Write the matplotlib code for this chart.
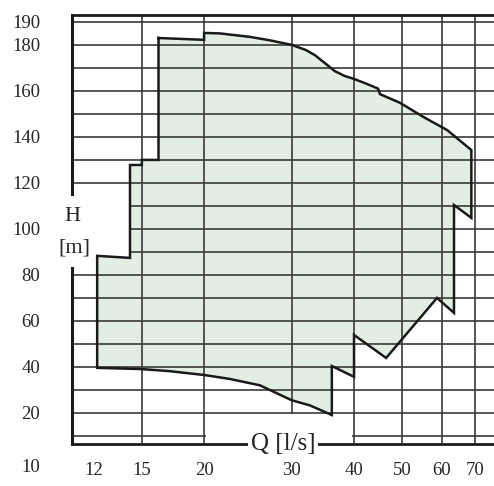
import matplotlib
matplotlib.use("Agg")
import matplotlib.pyplot as plt
from matplotlib.ticker import NullFormatter

plt.rcParams['font.family'] = ['Liberation Serif', 'DejaVu Serif']

# pump envelope, Q [l/s] and H [m], traced clockwise from the top-left
env_q = [16.2, 20, 20, 21.5, 24.7, 27.1, 30, 32, 33.4, 35, 36.6, 38.3, 40, 42.5, 44.7, 45.1,
         49.5, 55.1, 61.5, 68.8,
         68.8, 63.5, 63.5, 58.7, 46.4, 40, 40, 36.1, 36.1,
         32.6, 30, 25.9, 22.5, 20, 17, 14.9, 12.2,
         12.2, 14.2, 14.2, 15.0, 15.0, 16.2]
env_h = [183, 182.2, 185.2, 185.0, 183.5, 182, 180, 177.8, 175.5, 172, 168.6, 166.5, 165.2, 163, 161, 158.6,
         154.8, 148.7, 143, 134.3,
         104.8, 110.4, 63.5, 70, 43.9, 53.9, 35.7, 40.4, 19.1,
         23.3, 25.5, 32, 34.8, 36.5, 38.2, 39.1, 39.6,
         88.3, 87.4, 127.8, 127.8, 130, 130]

q_ticks = [12, 15, 20, 30, 40, 50, 60, 70]
q_grid = [15, 20, 30, 40, 50, 60, 70]
h_ticks = [20, 40, 60, 80, 100, 120, 140, 160, 180, 190]
h_grid = list(range(10, 200, 10))

q_min, q_max = 10.86, 76.4
h_min, h_max = 6.5, 193

txt = '#262626'
grid_col = '#3a3a3a'

fig = plt.figure(figsize=(4.94, 4.86), dpi=100)
ax = fig.add_axes([72 / 494, 42 / 486, 422 / 494, 429 / 486])
ax.set_xscale('log')
ax.set_xlim(q_min, q_max)
ax.set_ylim(h_min, h_max)

# ticks and grid (grid on minor ticks only, labels on major ticks)
ax.xaxis.remove_overlapping_locs = False
ax.yaxis.remove_overlapping_locs = False
ax.set_xticks(q_ticks, [str(q) for q in q_ticks])
ax.set_xticks(q_grid, minor=True)
ax.xaxis.set_minor_formatter(NullFormatter())
ax.set_yticks(h_ticks, [str(h) for h in h_ticks])
ax.set_yticks(h_grid, minor=True)
ax.grid(which='minor', color=grid_col, lw=1.2)
ax.tick_params(which='both', length=0, labelsize=13.5, labelcolor=txt)
ax.tick_params(axis='y', pad=23)
ax.tick_params(axis='x', pad=13)

# spines: thick frame, left side broken by the H [m] label
for side in ['left', 'right']:
    ax.spines[side].set_visible(False)
for side in ['top', 'bottom']:
    ax.spines[side].set_linewidth(2)
    ax.spines[side].set_color('#1a1a1a')
frac = lambda h: (h - h_min) / (h_max - h_min)
ax.axvline(q_min, ymin=0, ymax=frac(83), color='#1a1a1a', lw=2.2, zorder=2.5, clip_on=False)
ax.axvline(q_min, ymin=frac(115), ymax=1, color='#1a1a1a', lw=2.2, zorder=2.5, clip_on=False)

# operating range (under the grid)
ax.fill(env_q, env_h, color='#e2eee4', lw=0, zorder=1)

# white patches hiding grid where the original has none
ax.fill_between([q_min, 12.15], 83, 115, color='white', lw=0, zorder=1.8)
ax.fill_between([12.15, 14.15], 88.6, 115, color='white', lw=0, zorder=1.8)
ax.fill_between([20.15, 39.7], h_min, 19.4, color='white', lw=0, zorder=1.8)

ax.plot(env_q + env_q[:1], env_h + env_h[:1], color='#1a1a1a', lw=1.8, zorder=3,
        solid_joinstyle='miter')

# axis titles
yt = ax.get_yaxis_transform()
ax.text(0.0, 105.2, 'H', transform=yt, ha='center', va='center', fontsize=16, color=txt, zorder=4)
ax.text(0.005, 91.7, '[m]', transform=yt, ha='center', va='center', fontsize=16, color=txt, zorder=4)
ax.text(-32 / 422, -3.9, '10', transform=yt, ha='right', va='center', fontsize=13.5, color=txt,
        clip_on=False)
ax.text(28.8, h_min, 'Q [l/s]', ha='center', va='center', fontsize=18, color=txt, zorder=4,
        bbox=dict(facecolor='white', edgecolor='none', pad=2), clip_on=False)

plt.savefig('out.png', dpi=100)
plt.close()
